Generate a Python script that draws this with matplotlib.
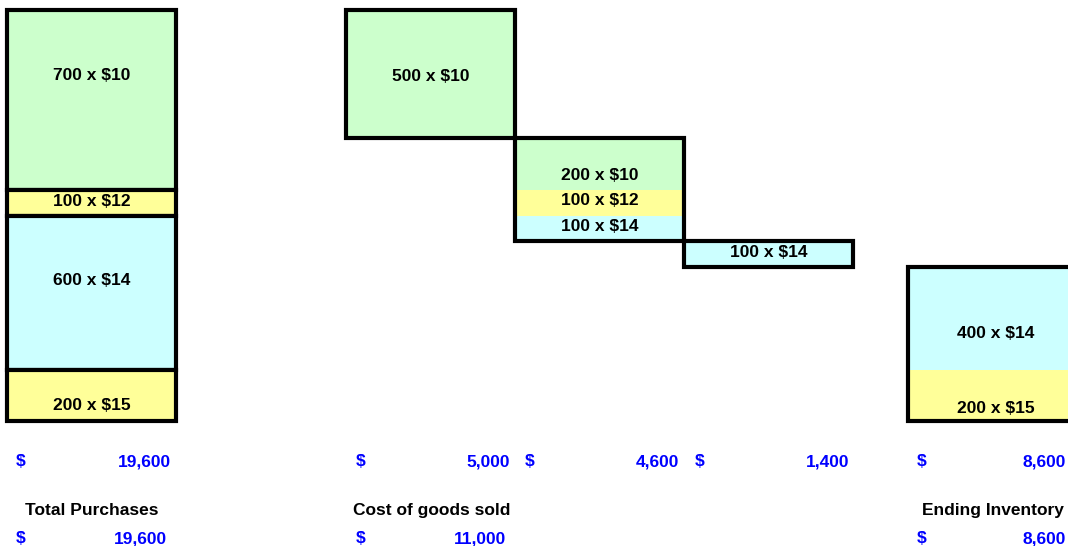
import matplotlib
matplotlib.use("Agg")
import matplotlib.pyplot as plt
from matplotlib.patches import Rectangle

plt.rcParams['font.family'] = ['Liberation Sans', 'DejaVu Sans']

# FIFO cost layers: units and unit cost
purchase_units = [700, 100, 600, 200]
purchase_costs = [10, 12, 14, 15]

sale1_units = [500]
sale1_costs = [10]
sale2_units = [200, 100, 100]
sale2_costs = [10, 12, 14]
sale3_units = [100]
sale3_costs = [14]

ending_units = [400, 200]
ending_costs = [14, 15]

bottom_titles = ['Total Purchases', 'Cost of goods sold', 'Ending Inventory']

# layer colours by unit cost
cost_colors = {10: '#CCFFCC', 12: '#FFFF99', 14: '#CCFFFF', 15: '#FFFF99'}

# layout (pixel x, unit y)
W, H = 1068, 546
ppu = 411 / 1600.0          # pixels per unit
top_px = 10
FS = 12.5
BASE = 6.2                  # centre -> baseline offset, px


def uy(px):
    return (px - top_px) / ppu


fig = plt.figure(figsize=(W / 100, H / 100), dpi=100)
ax = fig.add_axes([0, 0, 1, 1])
ax.set_xlim(0, W)
ax.set_ylim(uy(H), uy(0))
ax.axis('off')


def label(x, ypx, s, ha='center', color='black'):
    ax.text(x, uy(ypx + BASE), s, ha=ha, va='baseline', fontsize=FS,
            fontweight='bold', color=color)


total_units = sum(purchase_units)
n_sold_before3 = sum(sale1_units) + sum(sale2_units)

groups = [
    # units, costs, left, width, start, outline each layer, label y (px)
    (purchase_units, purchase_costs, 7, 169, 0, True, [74, 200, 279, 404]),
    (sale1_units, sale1_costs, 346, 169, 0, False, [75]),
    (sale2_units, sale2_costs, 515, 169, sum(sale1_units), False, [174, 199, 225]),
    (sale3_units, sale3_costs, 684, 169, n_sold_before3, False, [251]),
    (ending_units, ending_costs, 908, 175, total_units - sum(ending_units), False, [332, 407]),
]

lw = 3
for gi, (units, costs, left, width, start, each, label_px) in enumerate(groups):
    y = start
    for u, c, lp in zip(units, costs, label_px):
        ax.add_patch(Rectangle((left, y), width, u, facecolor=cost_colors[c],
                               edgecolor='black' if each else 'none',
                               linewidth=lw if each else 0, joinstyle='miter'))
        label(left + width / 2, lp, f'{u} x ${c}')
        y += u
    bottom = start + sum(units)
    if gi == len(groups) - 1:
        # right side runs off the page: open outline
        ax.plot([left + width, left, left, left + width], [start, start, bottom, bottom],
                color='black', lw=lw, solid_joinstyle='miter', solid_capstyle='butt')
    elif not each:
        ax.add_patch(Rectangle((left, start), width, sum(units), facecolor='none',
                               edgecolor='black', linewidth=lw, joinstyle='miter'))

blue = '#0000FF'


def money(x_dollar, x_right, ypx, value):
    label(x_dollar, ypx, '$', color=blue)
    label(x_right, ypx, f'{value:,}', ha='right', color=blue)


# per-block subtotals
sub_pos = [(21, 171), (361, 510), (530, 679), (700, 849), (922, 1066)]
for (units, costs, *_), (xd, xr) in zip(groups, sub_pos):
    money(xd, xr, 460, sum(u * c for u, c in zip(units, costs)))

purch_total = sum(u * c for u, c in zip(purchase_units, purchase_costs))
cogs_total = sum(sum(u * c for u, c in zip(us, cs)) for us, cs in
                 [(sale1_units, sale1_costs), (sale2_units, sale2_costs),
                  (sale3_units, sale3_costs)])
end_total = sum(u * c for u, c in zip(ending_units, ending_costs))

label(92, 509, bottom_titles[0])
label(353, 509, bottom_titles[1], ha='left')
label(1064, 509, bottom_titles[2], ha='right')

money(21, 167, 537, purch_total)
money(361, 506, 537, cogs_total)
money(922, 1066, 537, end_total)

fig.savefig('out.png', dpi=100)
